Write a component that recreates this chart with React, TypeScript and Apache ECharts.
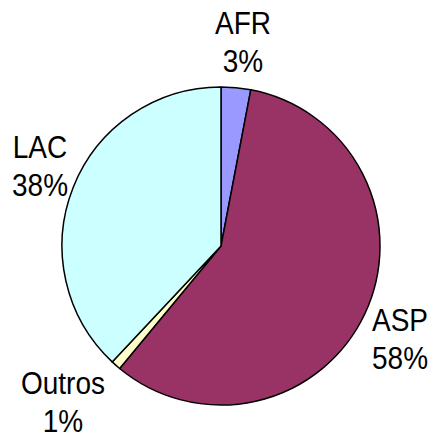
import React, { useEffect, useRef } from "react";
import * as echarts from "echarts";

const categories = ["AFR", "ASP", "Outros", "LAC"];
const values = [3, 58, 1, 38];
const colors = ["#9999FF", "#993366", "#FFFFCC", "#CCFFFF"];
const labelPos: [number, number][] = [
  [243, 42],
  [400, 339],
  [63, 402],
  [40, 166],
];

export default function App() {
  const ref = useRef<HTMLDivElement>(null);
  useEffect(() => {
    if (!ref.current) return;
    const chart = echarts.init(ref.current, null, { renderer: "svg" });
    const total = values.reduce((a, b) => a + b, 0);
    chart.setOption({
      animation: false,
      backgroundColor: "#ffffff",
      graphic: categories.map((c, i) => ({
        type: "text",
        x: labelPos[i][0],
        y: labelPos[i][1],
        scaleY: 1.1,
        silent: true,
        style: {
          text: c + "\n" + Math.round((values[i] / total) * 100) + "%",
          fill: "#000000",
          font: '28px "Liberation Sans", Arial, sans-serif',
          lineHeight: 34,
          align: "center",
          verticalAlign: "middle",
        },
      })),
      series: [
        {
          type: "pie",
          center: [221, 246],
          radius: 159,
          startAngle: 90,
          clockwise: true,
          data: categories.map((c, i) => ({
            name: c,
            value: values[i],
            itemStyle: { color: colors[i] },
          })),
          itemStyle: { borderColor: "#000000", borderWidth: 1.5 },
          label: { show: false },
          labelLine: { show: false },
          emphasis: { disabled: true },
        },
      ],
    });
    return () => chart.dispose();
  }, []);
  return (
    <div
      ref={ref}
      style={{ position: "absolute", left: 0, top: 0, width: 434, height: 439 }}
    />
  );
}
